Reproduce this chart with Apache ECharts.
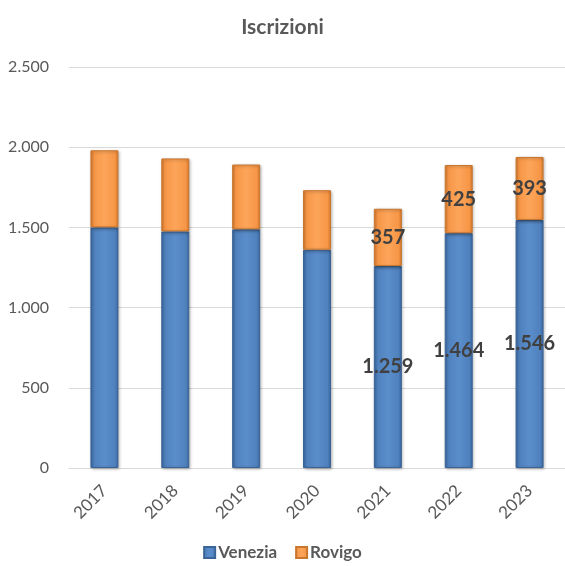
<!DOCTYPE html>
<html>
<head>
<meta charset="utf-8">
<script src="https://cdn.jsdelivr.net/npm/echarts@6/dist/echarts.min.js"></script>
<style>
html, body { margin: 0; padding: 0; background: #fff; }
#main { width: 565px; height: 566px; }
</style>
</head>
<body>
<div id="main"></div>
<script>
var years = ['2017', '2018', '2019', '2020', '2021', '2022', '2023']
var venezia = [1500, 1475, 1488, 1361, 1259, 1464, 1546]
var rovigo = [481, 455, 404, 371, 357, 425, 393]
// only the last three years carry a label
var labelled = ['2021', '2022', '2023']

function fmt (v) {
  return String(v).replace(/\B(?=(\d{3})+(?!\d))/g, '.')
}

function barFill (dark, mid, light) {
  return new echarts.graphic.LinearGradient(0, 0, 1, 0, [
    { offset: 0, color: dark },
    { offset: 0.12, color: mid },
    { offset: 0.5, color: light },
    { offset: 0.88, color: mid },
    { offset: 1, color: dark }
  ])
}

function makeData (vals) {
  return vals.map(function (v, i) {
    return {
      value: v,
      label: { show: labelled.indexOf(years[i]) >= 0 }
    }
  })
}

var labelStyle = {
  position: 'inside',
  fontFamily: 'Lato',
  fontWeight: 'bold',
  fontSize: 20,
  color: '#404040',
  formatter: function (p) { return fmt(p.value) }
}

var chart = echarts.init(document.getElementById('main'))
var option = {
  animation: false,
  textStyle: { fontFamily: 'Lato' },
  title: {
    text: 'Iscrizioni',
    left: 'center',
    top: 12,
    textStyle: { fontFamily: 'Lato', fontSize: 21, fontWeight: 'bold', color: '#595959' }
  },
  legend: {
    bottom: 0,
    left: 'center',
    itemWidth: 11,
    itemHeight: 11,
    itemGap: 18,
    icon: 'rect',
    textStyle: { fontFamily: 'Lato', fontSize: 17, fontWeight: 'bold', color: '#595959', padding: [0, 0, 0, -2] },
    data: ['Venezia', 'Rovigo']
  },
  grid: { left: 69, top: 67, width: 501, height: 401, containLabel: false },
  xAxis: {
    type: 'category',
    data: years,
    axisTick: { show: false },
    axisLine: { lineStyle: { color: '#d9d9d9', width: 1 } },
    axisLabel: { rotate: 45, fontSize: 17, color: '#595959', margin: 20 }
  },
  yAxis: {
    type: 'value',
    min: 0,
    max: 2500,
    interval: 500,
    axisLine: { show: false },
    axisTick: { show: false },
    splitLine: { lineStyle: { color: '#d9d9d9', width: 1 } },
    axisLabel: { fontSize: 16, color: '#595959', margin: 20, formatter: fmt }
  },
  series: [
    {
      name: 'Venezia',
      type: 'bar',
      stack: 'tot',
      barWidth: 28,
      data: makeData(venezia),
      label: labelStyle,
      itemStyle: {
        color: barFill('#3a68a6', '#4f81bd', '#5a8dcb'),
        borderColor: '#3b6496',
        borderWidth: 1,
        shadowColor: 'rgba(0,0,0,0.3)',
        shadowBlur: 3,
        shadowOffsetX: 1,
        shadowOffsetY: 1
      }
    },
    {
      name: 'Rovigo',
      type: 'bar',
      stack: 'tot',
      barWidth: 28,
      data: makeData(rovigo),
      label: labelStyle,
      itemStyle: {
        color: barFill('#d9792c', '#f79646', '#fca55a'),
        borderColor: '#c8772f',
        borderWidth: 1,
        shadowColor: 'rgba(0,0,0,0.3)',
        shadowBlur: 3,
        shadowOffsetX: 1,
        shadowOffsetY: 1
      }
    }
  ]
}
chart.setOption(option)
</script>
</body>
</html>
